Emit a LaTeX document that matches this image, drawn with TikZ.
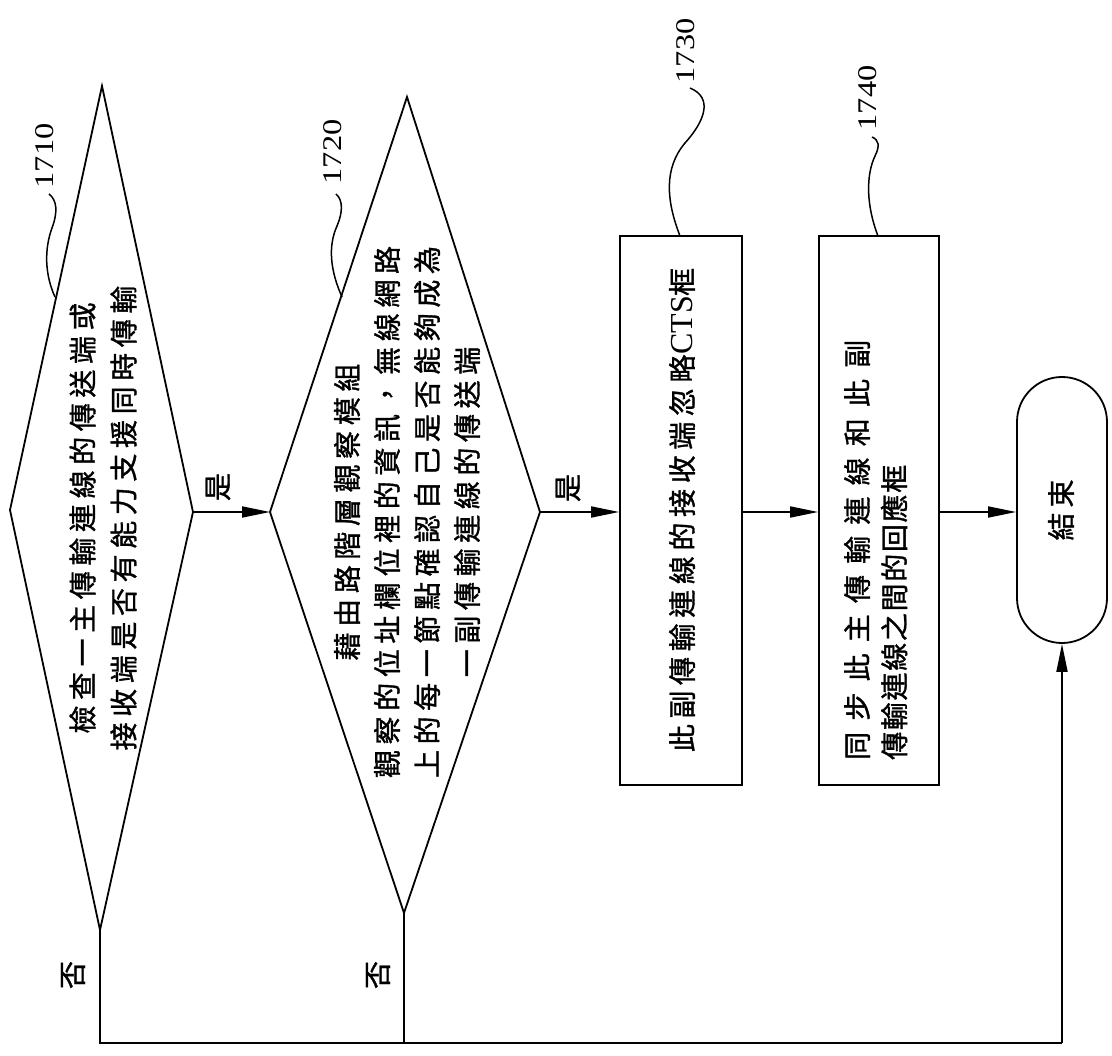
\documentclass[tikz,border=0pt]{standalone}
\usepackage{fontspec}
\newfontfamily\cjk{Noto Sans CJK TC}[FakeBold=1.2]
\newfontfamily\numfont{Liberation Serif}[FakeStretch=1.2]
\newfontfamily\latinserif{Liberation Serif}
\usetikzlibrary{arrows.meta}
\begin{document}
\begin{tikzpicture}[x=1pt,y=-1pt,
  ln/.style={line width=1.8pt},
  lead/.style={line width=1.5pt},
  arr/.style={ln,-{Triangle[length=28pt,width=11pt]}},
  cjktxt/.style={font={\cjk\fontsize{28}{40}\selectfont\addfontfeature{LetterSpace=20}}},
  numtxt/.style={font={\numfont\fontsize{27}{30}\selectfont},rotate=90,inner sep=0pt},
  boxnode/.style={draw,ln,inner sep=0pt},
  lbl/.style={cjktxt,rotate=90,inner sep=0pt}]
\useasboundingbox (0,0) rectangle (1112,1056);
\fill[white] (0,0) rectangle (1112,1056);

% diamond 1710
\coordinate (d1t) at (102,86);
\coordinate (d1l) at (10,510);
\coordinate (d1r) at (193,512);
\coordinate (d1b) at (100,930);
\draw[ln,line join=miter] (d1t) -- (d1r) -- (d1b) -- (d1l) -- cycle;
\node[cjktxt,rotate=90,align=center,inner sep=0pt,font={\cjk\fontsize{28}{41}\selectfont\addfontfeature{LetterSpace=20}}] (t1710) at (103,518)
  {檢查一主傳輸連線的傳送端或\\接收端是否有能力支援同時傳輸};

% diamond 1720
\coordinate (d2t) at (407,97);
\coordinate (d2l) at (270,512);
\coordinate (d2r) at (540,512);
\coordinate (d2b) at (404,913);
\draw[ln,line join=miter] (d2t) -- (d2r) -- (d2b) -- (d2l) -- cycle;
\node[cjktxt,rotate=90,align=center,inner sep=0pt] (t1720) at (407,512)
  {藉由路階層觀察模組\\觀察的位址欄位裡的資訊，無線網路\\上的每一節點確認自己是否能夠成為\\一副傳輸連線的傳送端};

% box 1730
\node[boxnode,minimum width=122pt,minimum height=549pt] (b1730) at (681,510.5) {};
\node[lbl] (t1730) at (682,510) {此副傳輸連線的接收端忽略{\latinserif\fontsize{32}{36}\selectfont CTS}框};

% box 1740
\node[boxnode,minimum width=120pt,minimum height=549pt] (b1740) at (879,510.5) {};
\node[lbl,anchor=west,font={\cjk\fontsize{28}{40}\selectfont\addfontfeature{LetterSpace=40}}] (t1740a) at (857,760) {同步此主傳輸連線和此副};
\node[lbl,anchor=west,font={\cjk\fontsize{28}{40}\selectfont\addfontfeature{LetterSpace=6}}] (t1740b) at (894,760) {傳輸連線之間的回應框};

% terminator
\node[draw,ln,rounded corners=44.9pt,minimum width=90pt,minimum height=266pt,inner sep=0pt] (term) at (1062,510) {};
\node[lbl,font={\cjk\fontsize{28}{40}\selectfont\addfontfeature{LetterSpace=18}}] (tterm) at (1061,510) {結束};

% reference labels and leaders
\node[numtxt] (n1710) at (45,156) {1710};
\node[numtxt] (n1720) at (333,152) {1720};
\node[numtxt] (n1730) at (686,51) {1730};
\node[numtxt] (n1740) at (868,98) {1740};
\coordinate (e1710) at (55,297);
\coordinate (e1720) at (342,297);
\coordinate (e1730) at (680,236);
\coordinate (e1740) at (878,236);
\draw[lead] (e1710) .. controls (45,275) and (44,250) .. (52,228) .. controls (58,212) and (57,200) .. (49,194);
\draw[lead] (e1720) .. controls (330,270) and (328,246) .. (337,226) .. controls (343,212) and (343,200) .. (336,194);
\draw[lead] (e1730) .. controls (666,200) and (664,168) .. (685,143) .. controls (704,122) and (714,98) .. (690,88);
\draw[lead] (e1740) .. controls (866,205) and (866,175) .. (875,156) .. controls (880,146) and (879,140) .. (872,137);

% yes connectors
\draw[arr] (d1r) -- (d2l);
\node[lbl] (yes1) at (218,487) {是};
\draw[arr] (d2r) -- (d2r -| b1730.west);
\node[lbl] (yes2) at (568,488) {是};
\draw[arr] (b1730.east |- d2r) -- (b1740.west |- d2r);
\draw[arr] (b1740.east |- d2r) -- (term.west |- d2r);

% no connectors
\coordinate (c1) at (100,1043);
\draw[ln] (d1b) -- (c1) -- (c1 -| term.south);
\draw[arr] (c1 -| term.south) -- (term.south);
\draw[ln] (d2b) -- (d2b |- c1);
\node[lbl] (no1) at (73,975) {否};
\node[lbl] (no2) at (378,975) {否};
\end{tikzpicture}
\end{document}
